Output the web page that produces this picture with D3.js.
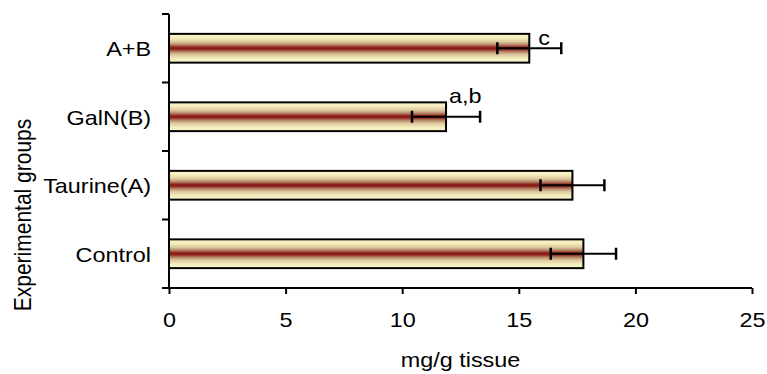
<!DOCTYPE html>
<html>
<head>
<meta charset="utf-8">
<script src="https://cdn.jsdelivr.net/npm/d3@7"></script>
<style>
  html, body { margin: 0; padding: 0; background: #fff; }
  svg { display: block; font-family: "Liberation Sans", Arial, sans-serif; }
</style>
</head>
<body>
<svg id="chart" width="767" height="374"></svg>
<script>
// Groups, top to bottom
const categories = ["A+B", "GalN(B)", "Taurine(A)", "Control"];
// Mean content (mg/g tissue) and its error
const means = [15.45, 11.88, 17.3, 17.77];
const errors = [1.37, 1.46, 1.37, 1.4];
// Significance letters written beside the bars
const sigLabels = ["c", "a,b", "", ""];
// Axis ticks
const xTicks = [0, 5, 10, 15, 20, 25];

const rows = categories.map((c, i) => ({
  name: c, mean: means[i], err: errors[i], sig: sigLabels[i]
}));

const W = 767, H = 374;
const plot = { left: 169, right: 752, top: 14, bottom: 288 };
const STRETCH = 1.17;      // wide lettering
const FONT = 20;

const svg = d3.select("#chart");

const x = d3.scaleLinear().domain([0, 25]).range([plot.left, plot.right]);
const y = d3.scaleBand().domain(categories)
  .range([plot.top, plot.bottom])
  .paddingInner(0.58).paddingOuter(0.29);

// Cream-to-maroon banded fill
const defs = svg.append("defs");
const grad = defs.append("linearGradient")
  .attr("id", "barFill").attr("x1", 0).attr("y1", 0).attr("x2", 0).attr("y2", 1);
[
  [0.00, "#fbf8cf"], [0.15, "#f3ebbb"], [0.28, "#dcc79c"],
  [0.38, "#b48366"], [0.46, "#922a22"], [0.50, "#861514"],
  [0.54, "#922a22"], [0.62, "#b48366"], [0.72, "#dcc79c"],
  [0.85, "#f3ebbb"], [1.00, "#fbf8cf"]
].forEach(([o, c]) => grad.append("stop").attr("offset", o).attr("stop-color", c));

// Bars
svg.append("g").selectAll("rect").data(rows).join("rect")
  .attr("x", x(0))
  .attr("y", d => y(d.name))
  .attr("width", d => x(d.mean) - x(0))
  .attr("height", y.bandwidth())
  .attr("fill", "url(#barFill)")
  .attr("stroke", "#000")
  .attr("stroke-width", 2);

// Error bars
const eb = svg.append("g").attr("stroke", "#000").attr("stroke-width", 2);
rows.forEach(d => {
  const cy = y(d.name) + y.bandwidth() / 2;
  eb.append("line").attr("x1", x(d.mean - d.err)).attr("x2", x(d.mean + d.err))
    .attr("y1", cy).attr("y2", cy);
  [d.mean - d.err, d.mean + d.err].forEach(v => {
    eb.append("line").attr("x1", x(v)).attr("x2", x(v))
      .attr("y1", cy - 6).attr("y2", cy + 6).attr("stroke-width", 2.5);
  });
});

// Significance letters
const sigOffset = { "c": [9, -3.5], "a,b": [3, -14] };
svg.append("g").selectAll("text").data(rows.filter(d => d.sig)).join("text")
  .attr("transform", d => {
    const [dx, dy] = sigOffset[d.sig] || [4, -4];
    return `translate(${x(d.mean) + dx},${y(d.name) + y.bandwidth() / 2 + dy}) scale(${STRETCH},1)`;
  })
  .attr("font-size", FONT)
  .attr("fill", "#000")
  .text(d => d.sig);

// X axis
const xAxis = svg.append("g")
  .attr("transform", `translate(0,${plot.bottom})`)
  .call(d3.axisBottom(x).tickValues(xTicks).tickFormat(d3.format("d"))
    .tickSize(6).tickPadding(19).tickSizeOuter(0));
xAxis.select(".domain").attr("stroke-width", 2).attr("d", `M${plot.left},0H${plot.right}`);
xAxis.selectAll(".tick line").attr("stroke-width", 2);
xAxis.selectAll(".tick text")
  .attr("font-size", FONT).attr("font-family", null).attr("fill", "#000")
  .attr("transform", `scale(${STRETCH},1)`);

// Y axis: labels centred on bands, ticks on band boundaries
const yAxis = svg.append("g")
  .attr("transform", `translate(${plot.left},0)`)
  .call(d3.axisLeft(y).tickSize(0).tickPadding(18 / STRETCH));
yAxis.select(".domain").attr("stroke-width", 2).attr("d", `M0,${plot.top}V${plot.bottom}`);
yAxis.selectAll(".tick text")
  .attr("font-size", FONT).attr("font-family", null).attr("fill", "#000")
  .attr("dy", "0.4em")
  .attr("transform", `scale(${STRETCH},1)`);

const bounds = d3.range(categories.length + 1).map(i => plot.top + i * (plot.bottom - plot.top) / categories.length);
svg.append("g").attr("stroke", "#000").attr("stroke-width", 2)
  .selectAll("line").data(bounds).join("line")
  .attr("x1", plot.left - 7).attr("x2", plot.left)
  .attr("y1", d => d).attr("y2", d => d);

// Axis titles
svg.append("text")
  .attr("transform", `translate(${(plot.left + plot.right) / 2},367) scale(${STRETCH},1)`)
  .attr("text-anchor", "middle").attr("font-size", FONT).attr("fill", "#000")
  .text("mg/g tissue");

svg.append("text")
  .attr("transform", `translate(31,215) scale(${STRETCH},1) rotate(-90)`)
  .attr("text-anchor", "middle").attr("font-size", 21).attr("fill", "#000")
  .text("Experimental groups");
</script>
</body>
</html>
